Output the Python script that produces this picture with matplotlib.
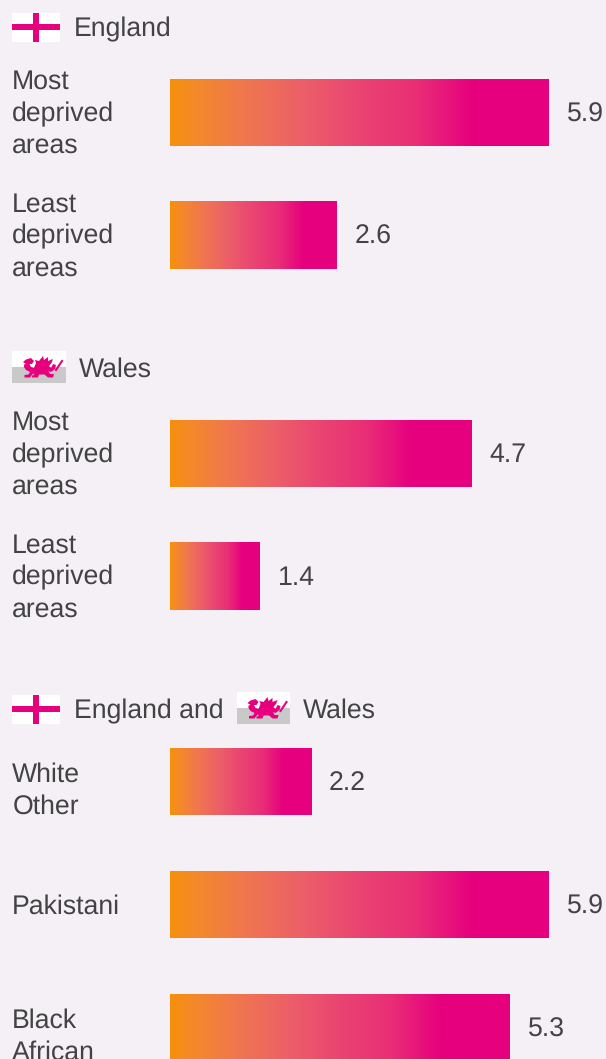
import numpy as np
import matplotlib
matplotlib.use("Agg")
import matplotlib.pyplot as plt
from matplotlib.colors import LinearSegmentedColormap
from matplotlib.patches import Rectangle, Polygon

# ---- data ----
categories = ["Most\ndeprived\nareas", "Least\ndeprived\nareas",
              "Most\ndeprived\nareas", "Least\ndeprived\nareas",
              "White\nOther", "Pakistani", "Black\nAfrican"]
values = [5.9, 2.6, 4.7, 1.4, 2.2, 5.9, 5.3]
value_labels = ["5.9", "2.6", "4.7", "1.4", "2.2", "5.9", "5.3"]

# ---- layout (pixels) ----
W, H = 606, 1059
row_centres = [112.5, 235, 453.5, 576, 781.5, 904.5, 1027.5]
bar_h = 67.4
bar_left = 170
px_per_unit = 64.15
first_offset = {3: -23.5, 2: 0.2, 1: 9}
line_gap = 32
BG = "#F4F0F6"
TXT = "#434343"
PINK = "#E6007E"
FS = 19.2

plt.rcParams["font.family"] = ["Liberation Sans", "DejaVu Sans"]
plt.rcParams["text.hinting"] = "no_hinting"
plt.rcParams["text.hinting_factor"] = 8
grad = LinearSegmentedColormap.from_list("g", [
    (0.0, "#F6900A"), (0.06, "#F48A28"), (0.2, "#F07650"), (0.35, "#EC5F68"),
    (0.5, "#EA4472"), (0.65, "#E92E76"), (0.8, PINK), (1.0, PINK)])

fig = plt.figure(figsize=(W / 100, H / 100), dpi=100, facecolor=BG)
ax = fig.add_axes([bar_left / W, 0, (W - bar_left) / W, 1], facecolor="none")
ax.set_xlim(0, (W - bar_left) / px_per_unit)
ax.set_ylim(H, 0)
ax.axis("off")

bars = ax.barh(row_centres, values, height=bar_h, color="none", linewidth=0)
ramp = np.linspace(0, 1, 512).reshape(1, -1)
for b, v, yc, lab in zip(bars, values, row_centres, value_labels):
    im = ax.imshow(ramp, cmap=grad, vmin=0, vmax=1, aspect="auto",
                   interpolation="bilinear",
                   extent=(0, v, yc + bar_h / 2, yc - bar_h / 2))
    im.set_clip_path(b)
    ax.annotate(lab, (v, yc), xytext=(18 * 0.72, -9 * 0.72),
                textcoords="offset points", fontsize=FS, color=TXT,
                ha="left", va="baseline", annotation_clip=False)
ax.set_xlim(0, (W - bar_left) / px_per_unit)
ax.set_ylim(H, 0)

# overlay in pixel coordinates for labels and flags
px = fig.add_axes([0, 0, 1, 1], facecolor="none")
px.set_xlim(0, W)
px.set_ylim(H, 0)
px.axis("off")

for cat, yc in zip(categories, row_centres):
    lines = cat.split("\n")
    for i, line in enumerate(lines):
        px.text(12.3, yc + first_offset[len(lines)] + i * line_gap, line,
                fontsize=FS, color=TXT, ha="left", va="baseline", clip_on=False)


def england(x, y):
    px.add_patch(Rectangle((x, y), 48, 29, fc="white", lw=0))
    px.add_patch(Rectangle((x + 21.3, y), 6, 29, fc=PINK, lw=0))
    px.add_patch(Rectangle((x, y + 11), 48, 6, fc=PINK, lw=0))


dragon = [(11, 11), (14, 8.5), (19, 7), (22, 10), (20, 13), (17.5, 13), (19, 16),
          (22, 17), (24, 12), (23, 9), (27, 10), (31, 5), (32, 9), (36, 6),
          (36, 10), (41, 8), (39.5, 12), (37, 15), (39, 17), (41, 13),
          (44, 14), (43, 18), (39, 21), (36.5, 20), (38, 23), (42, 23), (41, 26.5),
          (36, 26.5), (32.5, 23.5), (27, 23.5), (26, 26.5), (20, 26.5), (20, 24.5),
          (22.5, 24), (21, 22.5), (18, 26.5), (12.5, 26.5), (12.5, 24), (16.5, 23.5),
          (18, 21), (14, 19), (12, 16), (12, 13.5), (14, 13)]


def wales(x, y):
    px.add_patch(Rectangle((x, y), 53.5, 16, fc="white", lw=0))
    px.add_patch(Rectangle((x, y + 16), 53.5, 16, fc="#C9C9C9", lw=0))
    px.add_patch(Polygon([(x + a, y + b) for a, b in dragon], fc=PINK, lw=0))
    px.plot([x + 44, x + 50], [y + 19, y + 10], color=PINK, lw=1.5)


england(12, 13)
px.text(73.5, 36, "England", fontsize=FS, color=TXT, va="baseline")
wales(12, 351)
px.text(78.5, 377, "Wales", fontsize=FS, color=TXT, va="baseline")
england(12, 695)
px.text(73.5, 718, "England and", fontsize=FS, color=TXT, va="baseline")
wales(236.5, 692)
px.text(302.5, 718, "Wales", fontsize=FS, color=TXT, va="baseline")

fig.savefig("out.png", dpi=100, facecolor=BG)
